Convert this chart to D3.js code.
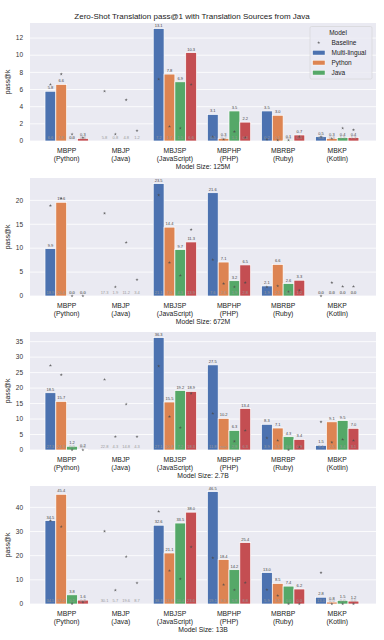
<!DOCTYPE html>
<html lang="en">
<head>
<meta charset="utf-8">
<title>Zero-Shot Translation pass@1</title>
<script src="https://cdn.jsdelivr.net/npm/d3@7"></script>
<style>
  body { margin: 0; background: #fff; }
  svg { font-family: "Liberation Sans", Arial, sans-serif; }
</style>
</head>
<body>
<script>
// categories and series
var categories = ["MBPP", "MBJP", "MBJSP", "MBPHP", "MBRBP", "MBKP"];
var languages = ["(Python)", "(Java)", "(JavaScript)", "(PHP)", "(Ruby)", "(Kotlin)"];
var models = ["Multi-lingual", "Python", "Java", "JavaScript"];
var colors = ["#4C72B0", "#DD8452", "#55A868", "#C44E52"];
var sizes = ["125M", "672M", "2.7B", "13B"];

// model pass@1 per category (order: Multi-lingual, Python, Java, JavaScript); null = no bar
var vals125M = [[5.8, 6.6, 0.0, 0.3], [null, null, null, null], [13.1, 7.8, 6.9, 10.3],
                [3.1, 0.3, 3.5, 2.2], [3.5, 3.0, 0.1, 0.7], [0.5, 0.3, 0.4, 0.4]];
var vals672M = [[9.9, 19.6, 0.0, 0.0], [null, null, null, null], [23.5, 14.4, 9.7, 11.3],
                [21.6, 7.1, 3.2, 6.5], [2.1, 6.6, 2.6, 3.3], [0.0, 0.0, 0.0, 0.0]];
var vals2p7B = [[18.5, 15.7, 1.2, 0.2], [null, null, null, null], [36.3, 15.5, 19.2, 18.9],
                [27.5, 10.2, 6.3, 13.4], [8.3, 7.1, 4.3, 3.4], [1.5, 9.1, 9.5, 7.0]];
var vals13B = [[34.5, 45.4, 3.8, 1.6], [null, null, null, null], [32.6, 21.1, 33.5, 38.0],
               [46.5, 18.4, 14.2, 25.4], [13.0, 8.5, 7.4, 6.2], [2.8, 0.8, 1.5, 1.2]];

// baseline pass@1 per category; NaN = missing
var base125M = [[6.6, 7.8, 0.8, 0.4], [5.8, 0.8, 4.8, 1.2], [7.2, 1.7, 1.5, 6.6],
                [0.5, 0.2, 1.1, 0.4], [0.2, 0.1, 0.1, 0.5], [0.5, 0.3, 1.5, 1.3]];
var base672M = [[18.9, 20.4, 0.0, 0.0], [17.3, 1.9, 11.2, 3.4], [21.1, 7.0, 4.3, 13.9],
                [7.6, 2.6, 1.9, 2.8], [1.9, 2.1, 0.9, 1.2], [0.0, 2.8, 2.0, 2.0]];
var base2p7B = [[27.3, 24.3, 0.0, 0.0], [22.8, 4.3, 14.8, 4.3], [27.1, 10.8, 7.2, 18.3],
                [11.8, NaN, 2.8, 6.3], [3.9, 3.1, 0.0, 0.9], [9.1, 2.5, 3.4, 3.1]];
var base13B = [[34.5, 32.0, 0.1, 0.8], [30.1, 5.7, 19.6, 8.7], [38.3, 13.8, 10.4, 23.6],
               [19.1, 8.0, 5.8, 8.8], [5.9, 3.5, 0.0, 0.0], [13.0, 0.0, 0.0, 0.0]];

var panels = [
  { size: sizes[0], vals: vals125M, base: base125M },
  { size: sizes[1], vals: vals672M, base: base672M },
  { size: sizes[2], vals: vals2p7B, base: base2p7B },
  { size: sizes[3], vals: vals13B, base: base13B }
];

var w = 384, h = 640;
var left = 30, right = 376;
var panelTops = [23, 178, 332, 486];
var ph = 118;

var svg = d3.select("body").append("svg")
  .attr("width", w).attr("height", h);

svg.append("text")
  .attr("x", 192).attr("y", 18.5)
  .attr("text-anchor", "middle")
  .attr("font-size", "8px").attr("fill", "#222")
  .text("Zero-Shot Translation pass@1 with Translation Sources from Java");

var x0 = d3.scaleBand().domain(d3.range(categories.length))
  .range([39.6, 364.3]).paddingInner(0.2).paddingOuter(0.1);
var x1 = d3.scaleBand().domain(d3.range(models.length))
  .range([0, x0.bandwidth()]);

var fmt = function(v) { return isNaN(v) ? "nan" : v.toFixed(1); };

panels.forEach(function(p, pi) {
  var top = panelTops[pi];
  var g = svg.append("g").attr("transform", "translate(0," + top + ")");

  var allVals = d3.merge(p.vals).concat(d3.merge(p.base)).filter(function(v) { return v != null && !isNaN(v); });
  var y = d3.scaleLinear().domain([0, d3.max(allVals) * 1.05]).range([ph, 0]);

  // background
  g.append("rect").attr("x", left).attr("y", 0)
    .attr("width", right - left).attr("height", ph)
    .attr("fill", "#EAEAF2");

  // grid
  var ticks = y.ticks(6);
  g.selectAll(".grid").data(ticks).enter().append("line")
    .attr("x1", left).attr("x2", right)
    .attr("y1", function(d) { return y(d); })
    .attr("y2", function(d) { return y(d); })
    .attr("stroke", "#fff").attr("stroke-width", 0.8);

  // y tick labels
  g.selectAll(".ytick").data(ticks).enter().append("text")
    .attr("x", 23).attr("y", function(d) { return y(d); })
    .attr("dy", "0.35em").attr("text-anchor", "end")
    .attr("font-size", "6.5px").attr("fill", "#333")
    .text(function(d) { return d; });

  g.append("text")
    .attr("transform", "translate(10," + (ph / 2) + ") rotate(-90)")
    .attr("text-anchor", "middle")
    .attr("font-size", "6.8px").attr("fill", "#222")
    .text("pass@k");

  // flatten
  var bars = [];
  p.vals.forEach(function(row, ci) {
    row.forEach(function(v, mi) {
      bars.push({ ci: ci, mi: mi, v: v, b: p.base[ci][mi] });
    });
  });
  var bx = function(d) { return x0(d.ci) + x1(d.mi); };
  var bw = x1.bandwidth();

  g.selectAll(".bar").data(bars.filter(function(d) { return d.v != null; }))
    .enter().append("rect")
    .attr("x", bx)
    .attr("y", function(d) { return y(d.v); })
    .attr("width", bw)
    .attr("height", function(d) { return ph - y(d.v); })
    .attr("fill", function(d) { return colors[d.mi]; })
    .attr("stroke", "#fff").attr("stroke-width", 0.7);

  // baseline markers
  var star = d3.symbol().type(d3.symbolStar).size(3);
  g.selectAll(".star").data(bars.filter(function(d) { return !isNaN(d.b); }))
    .enter().append("path")
    .attr("d", star)
    .attr("transform", function(d) { return "translate(" + (bx(d) + bw / 2) + "," + y(d.b) + ")"; })
    .attr("fill", "#4a4a4a").attr("fill-opacity", 0.8);

  // value labels
  g.selectAll(".vlab").data(bars.filter(function(d) { return d.v != null; }))
    .enter().append("text")
    .attr("x", function(d) { return bx(d) + bw / 2; })
    .attr("y", function(d) { return y(d.v) - 2; })
    .attr("text-anchor", "middle")
    .attr("font-size", "4px").attr("fill", "#444")
    .text(function(d) { return fmt(d.v); });

  // baseline labels at the bottom
  g.selectAll(".blab").data(bars)
    .enter().append("text")
    .attr("x", function(d) { return bx(d) + bw / 2; })
    .attr("y", ph - 1.8)
    .attr("text-anchor", "middle")
    .attr("font-size", "4px").attr("fill", "#9a9a9a")
    .text(function(d) { return fmt(d.b); });

  // category labels
  var cl = g.selectAll(".cat").data(categories).enter().append("text")
    .attr("text-anchor", "middle")
    .attr("font-size", "6.8px").attr("fill", "#222");
  cl.append("tspan")
    .attr("x", function(d, i) { return x0(i) + x0.bandwidth() / 2; })
    .attr("y", ph + 11.5)
    .text(function(d) { return d; });
  cl.append("tspan")
    .attr("x", function(d, i) { return x0(i) + x0.bandwidth() / 2; })
    .attr("y", ph + 19.5)
    .text(function(d, i) { return languages[i]; });

  g.append("text")
    .attr("x", (left + right) / 2).attr("y", ph + 27.5)
    .attr("text-anchor", "middle")
    .attr("font-size", "6.8px").attr("fill", "#222")
    .text("Model Size: " + p.size);
});

// legend
var lg = svg.append("g").attr("transform", "translate(310,26.5)");
lg.append("rect").attr("width", 62).attr("height", 52.5)
  .attr("rx", 1.5).attr("fill", "#EAEAF2").attr("fill-opacity", 0.8)
  .attr("stroke", "#ccc").attr("stroke-width", 0.5);
lg.append("text").attr("x", 28).attr("y", 5.8).attr("dy", "0.35em")
  .attr("text-anchor", "middle").attr("font-size", "6.5px").attr("fill", "#222")
  .text("Model");
var legItems = ["Baseline"].concat(models.slice(0, 3));
legItems.forEach(function(name, i) {
  var cy = 16.2 + i * 10;
  if (i === 0) {
    lg.append("path").attr("d", d3.symbol().type(d3.symbolStar).size(3))
      .attr("transform", "translate(8.7," + cy + ")")
      .attr("fill", "#4a4a4a").attr("fill-opacity", 0.8);
  } else {
    lg.append("rect").attr("x", 2.7).attr("y", cy - 2.3)
      .attr("width", 12.3).attr("height", 4.6).attr("fill", colors[i - 1])
      .attr("stroke", "#fff").attr("stroke-width", 0.4);
  }
  lg.append("text").attr("x", 21.5).attr("y", cy).attr("dy", "0.35em")
    .attr("font-size", "6.5px").attr("fill", "#222").text(name);
});
</script>
</body>
</html>
